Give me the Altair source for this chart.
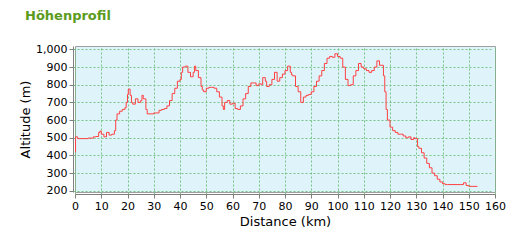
import altair as alt
import pandas as pd

km = [0, 0.2, 1, 3, 5, 7, 8, 9, 9.5, 10, 11, 12, 13, 14, 15, 15.5, 16, 17, 18, 19, 19.5, 20, 20.3, 21, 21.5, 22, 23, 24, 25, 25.5, 26, 27, 27.5,
      30, 32, 33, 34, 35, 36, 37, 38, 39, 40, 40.5, 41, 42, 43, 44, 45, 45.5, 46, 47, 48, 48.5, 49, 50, 51, 52, 53, 54, 55, 56, 56.5, 57, 58,
      59, 60, 61, 62, 63, 64, 65, 66, 67, 68, 69, 70, 71, 71.5, 72.5, 73, 74, 75, 76, 77, 78, 79, 80, 81, 82, 82.5, 83, 84, 85, 86, 87, 88,
      89, 90, 91, 92, 93, 94, 95, 96, 97, 98, 99, 100, 101, 102, 103, 104, 105, 106, 107, 108, 109, 110, 111, 112, 113, 114, 115, 116, 117,
      117.5, 118, 118.5, 119, 120, 121, 122, 123, 124, 125, 126, 127, 128, 129, 129.5, 130.5, 131, 132, 133, 134, 135, 136, 137, 138, 139,
      140, 141, 142, 147, 148, 149, 150, 153.3]
alt_m = [420, 505, 495, 495, 498, 505, 507, 530, 538, 520, 505, 530, 515, 520, 540, 600, 635, 650, 660, 670, 700, 745, 775, 740, 700, 690,
         720, 700, 710, 740, 720, 660, 635, 640, 655, 660, 665, 680, 710, 750, 780, 820, 830, 870, 900, 905, 870, 845, 870, 905, 880, 840,
         790, 770, 760, 780, 785, 785, 780, 760, 730, 680, 660, 700, 710, 690, 695, 665, 660, 680, 720, 750, 790, 810, 810, 795, 805, 800,
         840, 820, 790, 800, 830, 870, 820, 840, 860, 880, 905, 870, 855, 850, 790, 760, 700, 730, 740, 745, 760, 790, 820, 850, 880, 920,
         950, 960, 955, 975, 960, 950, 900, 830, 795, 800, 850, 880, 920, 900, 890, 880, 870, 880, 900, 935, 910, 910, 850, 760, 660, 600,
         560, 540, 530, 520, 520, 510, 500, 505, 490, 500, 495, 450, 440, 415, 385, 355, 330, 300, 285, 265, 250, 240, 235, 235, 235, 245,
         230, 225, 225]

df = pd.DataFrame({"km": km, "alt": alt_m})

x_ticks = list(range(0, 161, 10))
y_ticks = list(range(200, 1001, 100))

chart = alt.Chart(df).mark_line(color="#ff4040", strokeWidth=1, interpolate="step-after").encode(
    x=alt.X("km:Q", scale=alt.Scale(domain=[0, 160], nice=False, zero=False),
            axis=alt.Axis(values=x_ticks, title="Distance (km)", format="d", labelOverlap=False, labelFlush=False)),
    y=alt.Y("alt:Q", scale=alt.Scale(domain=[193, 1019], nice=False, zero=False),
            axis=alt.Axis(values=y_ticks, title="Altitude (m)", format=",d", labelOverlap=False, labelFlush=False)),
).properties(
    width=420, height=146,
    title=alt.TitleParams("Höhenprofil", anchor="start", frame="group", dx=-50, offset=20,
                          fontSize=13, font="DejaVu Sans", fontWeight="bold", color="#5b9b20"),
    autosize=alt.AutoSizeParams(type="none"),
    padding={"left": 75, "top": 46, "right": 20, "bottom": 48},
).configure_view(
    fill="#dff3fb", stroke="#a0a0a0", strokeWidth=1
).configure_axis(
    domainColor="#808080", tickColor="#808080", gridColor="#6cc07a", gridDash=[2, 2], gridOpacity=0.9,
    labelFont="DejaVu Sans", labelFontSize=11, labelColor="#000000",
    titleFont="DejaVu Sans", titleFontSize=13, titleFontWeight="normal", titleColor="#000000",
    tickSize=4, offset=2, labelPadding=2,
).configure_axisY(titlePadding=3).configure_axisX(titlePadding=4)

chart.save("out.html", embed_options={"renderer": "svg", "actions": False})
